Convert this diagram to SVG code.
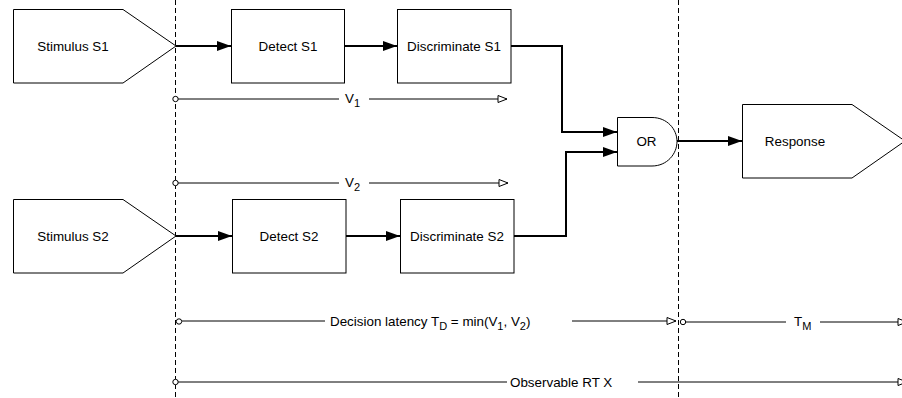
<svg xmlns="http://www.w3.org/2000/svg" width="902" height="398" viewBox="0 0 902 398">
<style>
.shape{fill:#fff;stroke:#000;stroke-width:1}
.lbl{font-family:"Liberation Sans",Arial,sans-serif;font-size:13.4px;fill:#000}
.c{text-anchor:middle}
.flow{fill:none;stroke:#000;stroke-width:2}
.time{fill:none;stroke:#000;stroke-width:1}
.dash{fill:none;stroke:#000;stroke-width:1;stroke-dasharray:5 3}
.dot{fill:#fff;stroke:#000;stroke-width:1}
</style>
<defs>
<marker id="solid" markerUnits="userSpaceOnUse" markerWidth="16" markerHeight="12" refX="15" refY="6" orient="auto">
<path d="M1,1 L15,6 L1,11 Z" fill="#000"/>
</marker>
<marker id="open" markerUnits="userSpaceOnUse" markerWidth="12" markerHeight="10" refX="10" refY="5" orient="auto">
<path d="M1,1.5 L10,5 L1,8.5 Z" fill="#fff" stroke="#000" stroke-width="1"/>
</marker>
</defs>
<rect width="902" height="398" fill="#fff"/>

<g id="guides">
<line class="dash" x1="175.5" y1="0" x2="175.5" y2="398"/>
<line class="dash" x1="678.5" y1="0" x2="678.5" y2="398"/>
</g>

<g id="stimulus-s1">
<path class="shape" d="M13.5,9.5 H123 L176,46 L123,83 H13.5 Z"/>
<text class="lbl c" x="73" y="50.5">Stimulus S1</text>
</g>
<g id="detect-s1">
<rect class="shape" x="231.5" y="9.5" width="113" height="73.5"/>
<text class="lbl c" x="288" y="50.5">Detect S1</text>
</g>
<g id="discriminate-s1">
<rect class="shape" x="397.5" y="9.5" width="113.5" height="73.5"/>
<text class="lbl c" x="454" y="50.5">Discriminate S1</text>
</g>
<g id="stimulus-s2">
<path class="shape" d="M13.5,199.5 H123 L176,236 L123,273 H13.5 Z"/>
<text class="lbl c" x="73" y="240.5">Stimulus S2</text>
</g>
<g id="detect-s2">
<rect class="shape" x="232.5" y="199.5" width="113.5" height="73.5"/>
<text class="lbl c" x="289" y="240.5">Detect S2</text>
</g>
<g id="discriminate-s2">
<rect class="shape" x="400.5" y="199.5" width="113.5" height="73.5"/>
<text class="lbl c" x="457" y="240.5">Discriminate S2</text>
</g>
<g id="or-gate">
<path class="shape" d="M617.5,117.5 H652 C667,117.5 677,129 677,141.5 C677,154 667,166 652,166 H617.5 Z"/>
<text class="lbl c" x="646.5" y="146">OR</text>
</g>
<g id="response">
<path class="shape" d="M742.5,104.5 H852 L905,141 L852,178 H742.5 Z"/>
<text class="lbl c" x="795" y="145.5">Response</text>
</g>

<g id="connectors">
<line class="flow" x1="176" y1="46" x2="231" y2="46" marker-end="url(#solid)"/>
<line class="flow" x1="344" y1="46" x2="397" y2="46" marker-end="url(#solid)"/>
<path class="flow" d="M511,46 H562 V132 H617" marker-end="url(#solid)"/>
<line class="flow" x1="176" y1="236" x2="232" y2="236" marker-end="url(#solid)"/>
<line class="flow" x1="346" y1="236" x2="400" y2="236" marker-end="url(#solid)"/>
<path class="flow" d="M514,236 H566 V152 H617" marker-end="url(#solid)"/>
<line class="flow" x1="677" y1="141" x2="742" y2="141" marker-end="url(#solid)"/>
</g>

<g id="timelines">
<line class="time" x1="178" y1="99" x2="339" y2="99"/>
<line class="time" x1="369" y1="99" x2="507" y2="99" marker-end="url(#open)"/>
<circle class="dot" cx="175.5" cy="99" r="2.7"/>
<text class="lbl" x="345" y="103">V<tspan font-size="11" dy="4">1</tspan></text>

<line class="time" x1="178" y1="183" x2="339" y2="183"/>
<line class="time" x1="369" y1="183" x2="508" y2="183" marker-end="url(#open)"/>
<circle class="dot" cx="175.5" cy="183" r="2.7"/>
<text class="lbl" x="345" y="187">V<tspan font-size="11" dy="4">2</tspan></text>

<line class="time" x1="182" y1="321" x2="325" y2="321"/>
<line class="time" x1="572" y1="321" x2="676" y2="321" marker-end="url(#open)"/>
<circle class="dot" cx="179" cy="321.5" r="2.7"/>
<text class="lbl" x="330" y="325.5">Decision latency T<tspan font-size="11" dy="4">D</tspan><tspan dy="-4"> = min(V</tspan><tspan font-size="11" dy="4">1</tspan><tspan dy="-4">, V</tspan><tspan font-size="11" dy="4">2</tspan><tspan dy="-4">)</tspan></text>

<line class="time" x1="686" y1="322" x2="786" y2="322"/>
<line class="time" x1="820" y1="322" x2="907" y2="322" marker-end="url(#open)"/>
<circle class="dot" cx="683" cy="322" r="2.7"/>
<text class="lbl" x="794" y="325.5">T<tspan font-size="11" dy="4">M</tspan></text>

<line class="time" x1="178" y1="382" x2="507" y2="382"/>
<line class="time" x1="638" y1="382" x2="907" y2="382" marker-end="url(#open)"/>
<circle class="dot" cx="175.5" cy="382" r="2.7"/>
<text class="lbl" x="510" y="386.5">Observable RT X</text>
</g>
</svg>
